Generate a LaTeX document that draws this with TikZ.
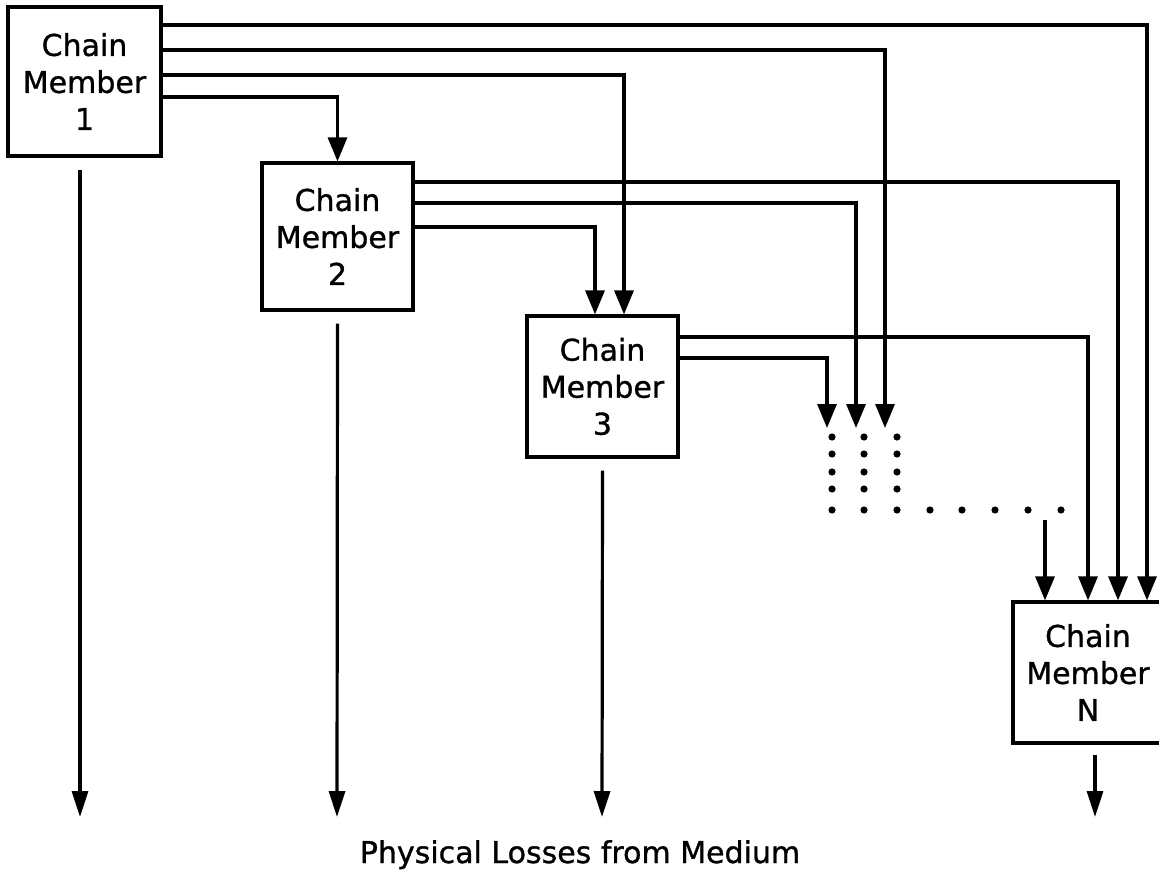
\documentclass[tikz,border=0pt]{standalone}
\usepackage{fontspec}
\setmainfont{DejaVu Sans}[FakeBold=1]
\usetikzlibrary{arrows.meta}
\tikzset{
  box/.style={draw, line width=3.2pt, align=center, inner sep=0pt,
    font=\fontsize{30}{37}\selectfont},
  ln/.style={line width=3.2pt},
  arr/.style={line width=3.2pt, -{Triangle[width=19pt,length=24pt]}},
  lossarr/.style={line width=3.2pt, -{Triangle[width=16pt,length=26pt]}},
  dot/.style={fill=black}
}
\begin{document}
\begin{tikzpicture}[x=1pt,y=-1pt]
\useasboundingbox (0,0) rectangle (1159,886);
% boxes
\node[box, minimum width=153pt, minimum height=149pt] (b1) at (84.5,81.5) {Chain\\Member\\1};
\node[box, minimum width=151pt, minimum height=147pt] (b2) at (337.5,236.5) {Chain\\Member\\2};
\node[box, minimum width=151pt, minimum height=141pt] (b3) at (602.5,386.5) {Chain\\Member\\3};
\node[box, minimum width=150pt, minimum height=141pt] (bN) at (1088,672.5) {Chain\\Member\\N};
% free ends
\coordinate (d1) at (827,428);
\coordinate (d2) at (856,428);
\coordinate (d3) at (885,428);
\coordinate (s) at (1045,520);
\coordinate (o1) at (80,817);
\coordinate (o2) at (337,817);
\coordinate (o3) at (602,817);
\coordinate (oN) at (1095,817);
% from member 1
\draw[arr] ([yshift=56.5pt]b1.east) -| ([xshift=59pt]bN.north);
\draw[arr] ([yshift=31.5pt]b1.east) -| (d3);
\draw[arr] ([yshift=6.5pt]b1.east) -| ([xshift=21.5pt]b3.north);
\draw[arr] ([yshift=-15.5pt]b1.east) -| (b2.north);
% from member 2
\draw[arr] ([yshift=54.5pt]b2.east) -| ([xshift=30pt]bN.north);
\draw[arr] ([yshift=33.5pt]b2.east) -| (d2);
\draw[arr] ([yshift=9.5pt]b2.east) -| ([xshift=-7.5pt]b3.north);
% from member 3
\draw[arr] ([yshift=49.5pt]b3.east) -| (bN.north);
\draw[arr] ([yshift=28.5pt]b3.east) -| (d1);
% dotted continuation
\foreach \x in {832,864,897} {
  \foreach \y in {437,454,472,489,510} {
    \fill[dot] (\x,\y) circle (3.6pt);
  }
}
\foreach \x in {930,962,995,1028,1061} {
  \fill[dot] (\x,510) circle (3.6pt);
}
\draw[arr] (s) -- ([xshift=-43pt]bN.north);
% losses
\draw[lossarr] ([xshift=-4.5pt,yshift=-12pt]b1.south) -- (o1);
\draw[lossarr] ([yshift=-12pt]b2.south) -- (o2);
\draw[lossarr] ([yshift=-12pt]b3.south) -- (o3);
\draw[lossarr] ([xshift=7pt,yshift=-10pt]bN.south) -- (oN);
\node[font=\fontsize{30}{36}\selectfont, anchor=base] (loss) at (580,863) {Physical Losses from Medium};
\end{tikzpicture}
\end{document}
